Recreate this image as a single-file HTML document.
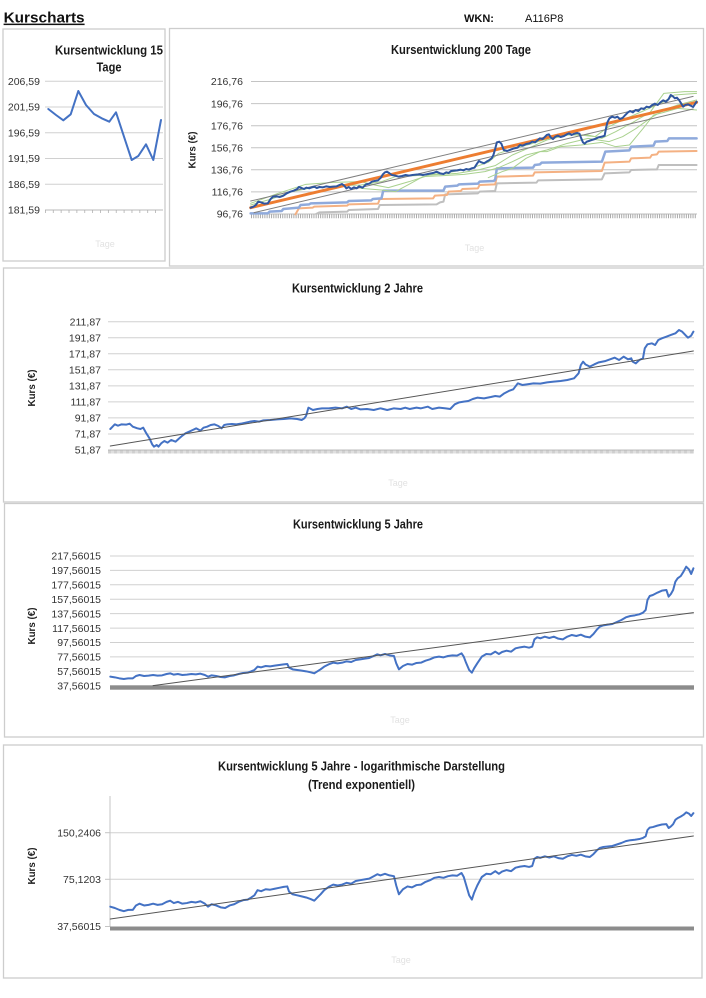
<!DOCTYPE html>
<html><head><meta charset="utf-8"><style>
html,body{margin:0;padding:0;background:#fff;}
svg{display:block;}
text{font-family:"Liberation Sans",Arial,sans-serif;}
.lbl{font-size:10.5px;fill:#333;}
.ttl{font-size:12.5px;font-weight:bold;fill:#1a1a1a;}
.ax{font-size:10px;font-weight:bold;fill:#222;}
.tg{font-size:9px;fill:#e2e2e2;}
.grid{stroke:#d0d0d0;stroke-width:1;}
.box{fill:none;stroke:#cdcdcd;stroke-width:1.3;}
.ns{vector-effect:non-scaling-stroke;fill:none;stroke-linejoin:round;stroke-linecap:round;}
</style></head><body>
<svg width="706" height="998" viewBox="0 0 706 998" xmlns="http://www.w3.org/2000/svg">
<rect width="706" height="998" fill="#fff"/>
<!-- header -->
<text x="3.6" y="22.5" font-size="15" font-weight="bold" fill="#111" textLength="81" lengthAdjust="spacingAndGlyphs">Kurscharts</text>
<rect x="3.6" y="23.6" width="81" height="1.5" fill="#111"/>
<text x="464" y="22" font-size="11" font-weight="bold" fill="#111">WKN:</text>
<text x="525" y="22" font-size="11" fill="#111">A116P8</text>

<!-- boxes -->
<rect class="box" x="3" y="29" width="162" height="232"/>
<rect class="box" x="169.5" y="28.5" width="534" height="237.5"/>
<rect class="box" x="3.5" y="268" width="700" height="234"/>
<rect class="box" x="4.5" y="503.5" width="699" height="233.5"/>
<rect class="box" x="3.5" y="745" width="698.5" height="233"/>

<!-- ===== Chart 1: 15 Tage ===== -->
<text class="ttl" x="109" y="54.7" text-anchor="middle" textLength="108" lengthAdjust="spacingAndGlyphs">Kursentwicklung 15</text>
<text class="ttl" x="109" y="71.5" text-anchor="middle" textLength="25" lengthAdjust="spacingAndGlyphs">Tage</text>
<g class="grid">
<line x1="45" y1="81.2" x2="163" y2="81.2"/>
<line x1="45" y1="107" x2="163" y2="107"/>
<line x1="45" y1="132.7" x2="163" y2="132.7"/>
<line x1="45" y1="158.5" x2="163" y2="158.5"/>
<line x1="45" y1="184.2" x2="163" y2="184.2"/>
</g>
<line x1="45" y1="210" x2="163" y2="210" stroke="#b8b8b8" stroke-width="1"/>
<line x1="45" y1="211.5" x2="163" y2="211.5" stroke="#b0b0b0" stroke-width="3" stroke-dasharray="0.8 7.07"/>
<g class="lbl" text-anchor="end">
<text x="40" y="84.9">206,59</text>
<text x="40" y="110.7">201,59</text>
<text x="40" y="136.4">196,59</text>
<text x="40" y="162.2">191,59</text>
<text x="40" y="187.9">186,59</text>
<text x="40" y="213.7">181,59</text>
</g>
<polyline class="ns" stroke="#4472c4" stroke-width="2" points="48.3,109 56,115 63.3,120.3 70.7,114.3 78.3,91 86,105 94,114 101.7,118.3 109.3,121.7 116,112.3 124,136.7 131.7,160 138.3,156 146,144.3 153.3,160 161,120"/>
<text class="tg" x="105" y="247" text-anchor="middle">Tage</text>

<!-- ===== Chart 2: 200 Tage ===== -->
<text class="ttl" x="461" y="54" text-anchor="middle" textLength="140" lengthAdjust="spacingAndGlyphs">Kursentwicklung 200 Tage</text>
<g class="grid" style="stroke:#c4c4c4">
<line x1="251" y1="81.5" x2="697" y2="81.5"/>
<line x1="251" y1="103.6" x2="697" y2="103.6"/>
<line x1="251" y1="125.7" x2="697" y2="125.7"/>
<line x1="251" y1="147.7" x2="697" y2="147.7"/>
<line x1="251" y1="169.8" x2="697" y2="169.8"/>
<line x1="251" y1="191.9" x2="697" y2="191.9"/>
</g>
<line x1="251" y1="214" x2="697" y2="214" stroke="#bdbdbd" stroke-width="1"/>
<line x1="251" y1="216.3" x2="697" y2="216.3" stroke="#a8a8a8" stroke-width="4" stroke-dasharray="1 1.23"/>
<g class="lbl" text-anchor="end">
<text x="243" y="85.2">216,76</text>
<text x="243" y="107.3">196,76</text>
<text x="243" y="129.4">176,76</text>
<text x="243" y="151.4">156,76</text>
<text x="243" y="173.5">136,76</text>
<text x="243" y="195.6">116,76</text>
<text x="243" y="217.7">96,76</text>
</g>
<text class="ax" transform="translate(195.5,150) rotate(-90)" text-anchor="middle" textLength="37" lengthAdjust="spacingAndGlyphs">Kurs (€)</text>
<text class="tg" x="474.5" y="251" text-anchor="middle">Tage</text>
<g transform="translate(168,25) scale(0.34435,0.33333)">
<polyline class="ns" stroke="#bfbfbf" stroke-width="2" points="430,567 440,562 520,560 525,555 610,552 615,540 780,538 790,532 800,530 805,508 900,505 905,500 950,498 955,475 1070,473 1075,466 1260,463 1268,445 1340,442 1345,435 1420,433 1425,420 1535,420"/>
<polyline class="ns" stroke="#f4b183" stroke-width="2" points="370,568 380,550 420,548 425,545 520,542 525,538 610,536 615,522 770,520 775,512 810,510 815,500 850,498 855,492 900,490 905,480 950,478 955,455 1060,452 1065,442 1260,438 1268,413 1340,410 1345,400 1400,398 1405,390 1420,388 1425,380 1535,378"/>
<polyline class="ns" stroke="#8faadc" stroke-width="2.5" points="240,565 290,565 295,560 330,558 335,552 380,548 385,540 410,538 415,535 520,532 525,528 590,526 595,522 620,520 625,497 800,497 805,485 840,482 845,478 900,476 905,470 945,468 950,465 955,430 1060,428 1065,420 1080,418 1085,413 1260,410 1270,380 1340,376 1345,365 1410,362 1415,350 1450,348 1455,340 1535,340"/>
<polyline class="ns" stroke="#a9d18e" stroke-width="1" points="240,540 300,522 360,500 420,488 500,482 560,480 620,470 660,455 720,452 800,445 880,430 930,412 960,385 1000,372 1060,355 1120,335 1180,328 1240,335 1280,305 1320,285 1380,258 1440,230 1470,210 1535,205"/>
<polyline class="ns" stroke="#a9d18e" stroke-width="1" points="240,535 320,505 400,478 480,472 560,470 600,480 640,488 700,470 760,450 840,445 900,435 950,422 1000,390 1050,368 1100,345 1160,330 1220,330 1260,340 1300,320 1350,292 1400,262 1440,205 1500,200 1535,200"/>
<polyline class="ns" stroke="#a9d18e" stroke-width="1" points="560,490 620,495 660,500 700,478 740,455 800,452 860,448 920,440 960,428 1000,410 1040,390 1100,375 1160,355 1220,340 1280,350 1320,335 1360,310 1400,280 1440,255 1480,240 1535,225"/>
<polyline class="ns" stroke="#a9d18e" stroke-width="1" points="930,458 970,440 1000,430 1040,400 1080,380 1100,380 1140,365 1200,360 1260,352 1300,365 1340,360 1380,310 1410,270 1440,262 1480,250 1535,255"/>
<line class="ns" stroke="#7f7f7f" stroke-width="1" x1="240" y1="528" x2="1525" y2="214"/>
<line class="ns" stroke="#7f7f7f" stroke-width="1" x1="250" y1="563" x2="1525" y2="252"/>
<line class="ns" stroke="#ed7d31" stroke-width="3" x1="240" y1="548" x2="1535" y2="232"/>
<polyline class="ns" stroke="#2f56a0" stroke-width="2" points="240,548 248,545 255,540 262,530 270,532 280,536 290,535 298,522 305,515 315,514 325,516 335,512 345,505 355,500 365,497 375,492 380,486 388,489 395,492 402,488 410,490 418,487 425,485 432,489 440,486 450,487 460,484 470,486 480,485 490,484 498,480 505,477 512,482 518,490 525,486 532,492 540,487 548,490 555,484 565,488 575,478 585,476 592,470 600,468 610,466 618,458 624,448 630,442 636,440 642,444 650,450 660,452 670,455 680,453 690,450 700,452 710,450 720,449 730,448 740,450 750,448 760,446 770,444 780,440 790,445 800,447 808,442 815,444 822,438 830,437 840,436 850,434 858,436 866,432 874,434 882,430 890,428 898,415 903,408 910,412 918,415 925,410 932,406 940,400 945,390 950,372 955,352 962,350 968,356 975,375 985,378 995,374 1005,370 1015,368 1022,360 1030,362 1040,357 1050,355 1058,350 1066,352 1074,345 1080,340 1088,342 1095,335 1100,330 1106,328 1112,338 1118,342 1125,335 1132,332 1140,336 1150,333 1158,328 1165,325 1172,330 1180,326 1188,324 1195,326 1200,340 1205,352 1210,356 1216,350 1222,348 1230,345 1240,342 1250,337 1260,335 1268,332 1272,310 1276,292 1282,280 1290,275 1298,278 1305,275 1312,282 1320,279 1328,270 1336,262 1342,258 1350,262 1358,255 1366,258 1374,250 1382,252 1390,245 1398,247 1406,240 1414,236 1422,240 1430,232 1438,226 1446,230 1454,222 1460,210 1466,214 1472,220 1478,218 1484,225 1490,235 1496,245 1502,240 1510,238 1518,242 1525,246 1530,238 1535,230"/>
</g>

<!-- ===== Chart 3: 2 Jahre ===== -->
<text class="ttl" x="357.5" y="292.3" text-anchor="middle" textLength="131" lengthAdjust="spacingAndGlyphs">Kursentwicklung 2 Jahre</text>
<g class="grid">
<line x1="108" y1="321.7" x2="694" y2="321.7"/>
<line x1="108" y1="337.7" x2="694" y2="337.7"/>
<line x1="108" y1="353.8" x2="694" y2="353.8"/>
<line x1="108" y1="369.8" x2="694" y2="369.8"/>
<line x1="108" y1="385.9" x2="694" y2="385.9"/>
<line x1="108" y1="401.9" x2="694" y2="401.9"/>
<line x1="108" y1="417.9" x2="694" y2="417.9"/>
<line x1="108" y1="434" x2="694" y2="434"/>
</g>
<line x1="108" y1="450" x2="694" y2="450" stroke="#bdbdbd" stroke-width="1"/>
<line x1="108" y1="451.8" x2="694" y2="451.8" stroke="#b0b0b0" stroke-width="3.5" stroke-dasharray="0.6 0.6"/>
<g class="lbl" text-anchor="end">
<text x="101" y="325.4">211,87</text>
<text x="101" y="341.4">191,87</text>
<text x="101" y="357.5">171,87</text>
<text x="101" y="373.5">151,87</text>
<text x="101" y="389.6">131,87</text>
<text x="101" y="405.6">111,87</text>
<text x="101" y="421.6">91,87</text>
<text x="101" y="437.7">71,87</text>
<text x="101" y="453.7">51,87</text>
</g>
<text class="ax" transform="translate(35,388) rotate(-90)" text-anchor="middle" textLength="37" lengthAdjust="spacingAndGlyphs">Kurs (€)</text>
<text class="tg" x="398" y="486" text-anchor="middle">Tage</text>
<g transform="translate(0,265) scale(0.45026,0.33333)">
<polyline class="ns" stroke="#4472c4" stroke-width="2" points="245,492 250,485 255,478 262,482 270,478 280,479 288,476 295,485 305,490 312,492 318,488 325,505 332,520 338,538 342,545 348,540 352,545 358,535 365,528 372,533 380,525 390,530 398,520 405,512 412,505 420,500 428,495 436,490 445,497 452,488 460,485 468,480 476,478 485,483 492,490 498,480 505,478 515,477 525,478 535,476 545,473 555,470 565,468 575,470 585,466 600,465 615,463 630,462 645,460 660,462 670,465 676,460 680,452 685,428 695,435 705,432 715,430 730,430 745,428 760,430 770,425 780,432 790,428 800,433 815,432 830,435 845,430 860,435 875,430 890,432 900,428 910,432 925,428 935,430 950,425 960,432 975,428 990,430 1000,432 1010,418 1020,412 1030,410 1040,408 1050,402 1060,398 1075,400 1090,396 1100,393 1110,395 1120,385 1130,378 1140,373 1150,355 1160,360 1170,358 1185,355 1200,356 1215,352 1230,350 1245,348 1260,345 1275,340 1285,325 1290,300 1295,290 1300,298 1310,305 1320,298 1330,292 1345,288 1355,283 1365,278 1375,285 1385,275 1395,283 1402,280 1405,290 1412,295 1420,285 1428,280 1432,250 1438,238 1448,235 1455,240 1462,225 1470,220 1480,215 1490,210 1500,205 1508,195 1515,200 1522,210 1528,218 1535,212 1540,200"/>
<line class="ns" stroke="#555" stroke-width="1" x1="245" y1="543" x2="1540" y2="258"/>
</g>

<!-- ===== Chart 4: 5 Jahre ===== -->
<text class="ttl" x="358" y="528.3" text-anchor="middle" textLength="130" lengthAdjust="spacingAndGlyphs">Kursentwicklung 5 Jahre</text>
<g class="grid">
<line x1="110" y1="556" x2="694" y2="556"/>
<line x1="110" y1="570.4" x2="694" y2="570.4"/>
<line x1="110" y1="584.8" x2="694" y2="584.8"/>
<line x1="110" y1="599.2" x2="694" y2="599.2"/>
<line x1="110" y1="613.6" x2="694" y2="613.6"/>
<line x1="110" y1="628.1" x2="694" y2="628.1"/>
<line x1="110" y1="642.5" x2="694" y2="642.5"/>
<line x1="110" y1="656.9" x2="694" y2="656.9"/>
<line x1="110" y1="671.3" x2="694" y2="671.3"/>
</g>
<rect x="110" y="685.3" width="584" height="4.4" fill="#8c8c8c"/>
<g class="lbl" text-anchor="end">
<text x="101" y="559.7">217,56015</text>
<text x="101" y="574.1">197,56015</text>
<text x="101" y="588.5">177,56015</text>
<text x="101" y="602.9">157,56015</text>
<text x="101" y="617.3">137,56015</text>
<text x="101" y="631.8">117,56015</text>
<text x="101" y="646.2">97,56015</text>
<text x="101" y="660.6">77,56015</text>
<text x="101" y="675">57,56015</text>
<text x="101" y="689.4">37,56015</text>
</g>
<text class="ax" transform="translate(35,626) rotate(-90)" text-anchor="middle" textLength="37" lengthAdjust="spacingAndGlyphs">Kurs (€)</text>
<text class="tg" x="400" y="723" text-anchor="middle">Tage</text>
<g transform="translate(0,500) scale(0.45026,0.33333)">
<polyline class="ns" stroke="#4472c4" stroke-width="2" points="245,530 255,532 265,535 275,537 285,535 295,535 302,528 310,525 320,528 330,527 340,525 350,527 360,526 370,522 378,520 386,524 395,522 405,525 415,524 425,522 435,523 445,521 455,525 462,530 470,526 480,528 490,531 500,532 510,528 520,526 530,522 540,519 550,518 558,514 565,510 572,500 580,502 590,498 600,499 610,497 620,495 630,493 638,492 642,503 650,508 660,510 670,512 680,514 690,517 698,520 705,514 712,508 720,500 730,493 740,488 750,490 760,488 770,484 780,486 790,480 800,478 810,476 820,474 830,468 838,463 845,466 855,462 865,466 875,468 880,490 886,508 895,498 905,492 915,494 925,489 935,488 945,482 955,478 965,472 975,470 985,472 995,468 1005,466 1015,467 1025,460 1030,470 1035,488 1042,510 1048,518 1053,505 1060,490 1070,470 1080,462 1090,463 1100,455 1108,462 1115,456 1125,452 1135,455 1145,445 1155,442 1165,440 1175,443 1182,440 1187,418 1193,412 1200,415 1210,410 1220,414 1230,410 1240,416 1250,418 1260,410 1270,405 1280,408 1290,404 1300,410 1310,412 1318,402 1325,390 1332,380 1340,376 1350,374 1360,372 1370,366 1380,360 1390,352 1400,348 1410,346 1420,343 1428,338 1434,330 1438,300 1443,288 1450,285 1460,278 1470,272 1480,270 1485,290 1490,282 1495,270 1500,245 1505,235 1512,228 1518,215 1524,200 1530,208 1535,222 1540,205"/>
<line class="ns" stroke="#555" stroke-width="1" x1="340" y1="557" x2="1540" y2="338"/>
</g>

<!-- ===== Chart 5: log ===== -->
<text class="ttl" x="361.5" y="770.7" text-anchor="middle" textLength="287" lengthAdjust="spacingAndGlyphs">Kursentwicklung 5 Jahre - logarithmische Darstellung</text>
<text class="ttl" x="361.5" y="789" text-anchor="middle" textLength="107" lengthAdjust="spacingAndGlyphs">(Trend exponentiell)</text>
<g class="grid">
<line x1="110" y1="832.7" x2="694" y2="832.7"/>
<line x1="110" y1="879.3" x2="694" y2="879.3"/>
</g>
<line x1="110" y1="796" x2="110" y2="927" stroke="#c4c4c4" stroke-width="1"/>
<g stroke="#c4c4c4" stroke-width="1">
<line x1="105" y1="832.7" x2="110" y2="832.7"/>
<line x1="105" y1="879.3" x2="110" y2="879.3"/>
<line x1="105" y1="926.5" x2="110" y2="926.5"/>
</g>
<rect x="110" y="926.5" width="584" height="4" fill="#8c8c8c"/>
<g class="lbl" text-anchor="end">
<text x="101" y="836.4">150,2406</text>
<text x="101" y="883">75,1203</text>
<text x="101" y="930">37,56015</text>
</g>
<text class="ax" transform="translate(35,866) rotate(-90)" text-anchor="middle" textLength="37" lengthAdjust="spacingAndGlyphs">Kurs (€)</text>
<text class="tg" x="401" y="963" text-anchor="middle">Tage</text>
<g transform="translate(0,740) scale(0.45026,0.33333)">
<polyline class="ns" stroke="#4472c4" stroke-width="2" points="245,500 255,504 265,509.6 275,513.5 285,509.6 295,509.6 302,496.4 310,491 320,496.4 330,494.6 340,491 350,494.6 360,492.8 370,485.6 378,482 386,489.2 395,485.6 405,491 415,489.2 425,485.6 435,487.4 445,483.8 455,491 462,500 470,492.8 480,496.4 490,502 500,504 510,496.4 520,492.8 530,485.6 540,480.4 550,478.8 558,472.4 565,466 572,450.5 580,453.6 590,447.7 600,449.1 610,446.3 620,443.5 630,440.7 638,439.3 642,455.2 650,462.9 660,466 670,469.2 680,472.4 690,477.2 698,482 705,472.4 712,462.9 720,450.5 730,440.7 740,433.8 750,436.5 760,433.8 770,428.4 780,431.1 790,423 800,420.6 810,418.2 820,415.8 830,408.6 838,402.6 845,406.2 855,401.4 865,406.2 875,408.6 880,436.5 886,462.9 895,447.7 905,439.3 915,442.1 925,435.2 935,433.8 945,425.7 955,420.6 965,413.4 975,411 985,413.4 995,408.6 1005,406.2 1015,407.4 1025,399 1030,411 1035,433.8 1042,466 1048,478.8 1053,458.2 1060,436.5 1070,411 1080,401.4 1090,402.6 1100,393.5 1108,401.4 1115,394.6 1125,390.2 1135,393.5 1145,383 1155,379.8 1165,378 1175,380.8 1182,378 1187,356.2 1193,351 1200,353.6 1210,349 1220,352.6 1230,349 1240,354.4 1250,356.2 1260,349 1270,344.8 1280,347.4 1290,344 1300,349 1310,351 1318,342.3 1325,332 1332,324 1340,321 1350,319.5 1360,318 1370,313.5 1380,309 1390,303.4 1400,300.6 1410,299.2 1420,297.1 1428,293.8 1434,288.8 1438,270 1443,262.8 1450,261.2 1460,256.9 1470,253.6 1480,252.5 1485,264 1490,259.2 1495,252.5 1500,239.5 1505,234.4 1512,229.5 1518,224.5 1524,217 1530,220.8 1535,228 1540,219.4"/>
<line class="ns" stroke="#555" stroke-width="1" x1="245" y1="537" x2="1540" y2="288"/>
</g>
</svg>
</body></html>
